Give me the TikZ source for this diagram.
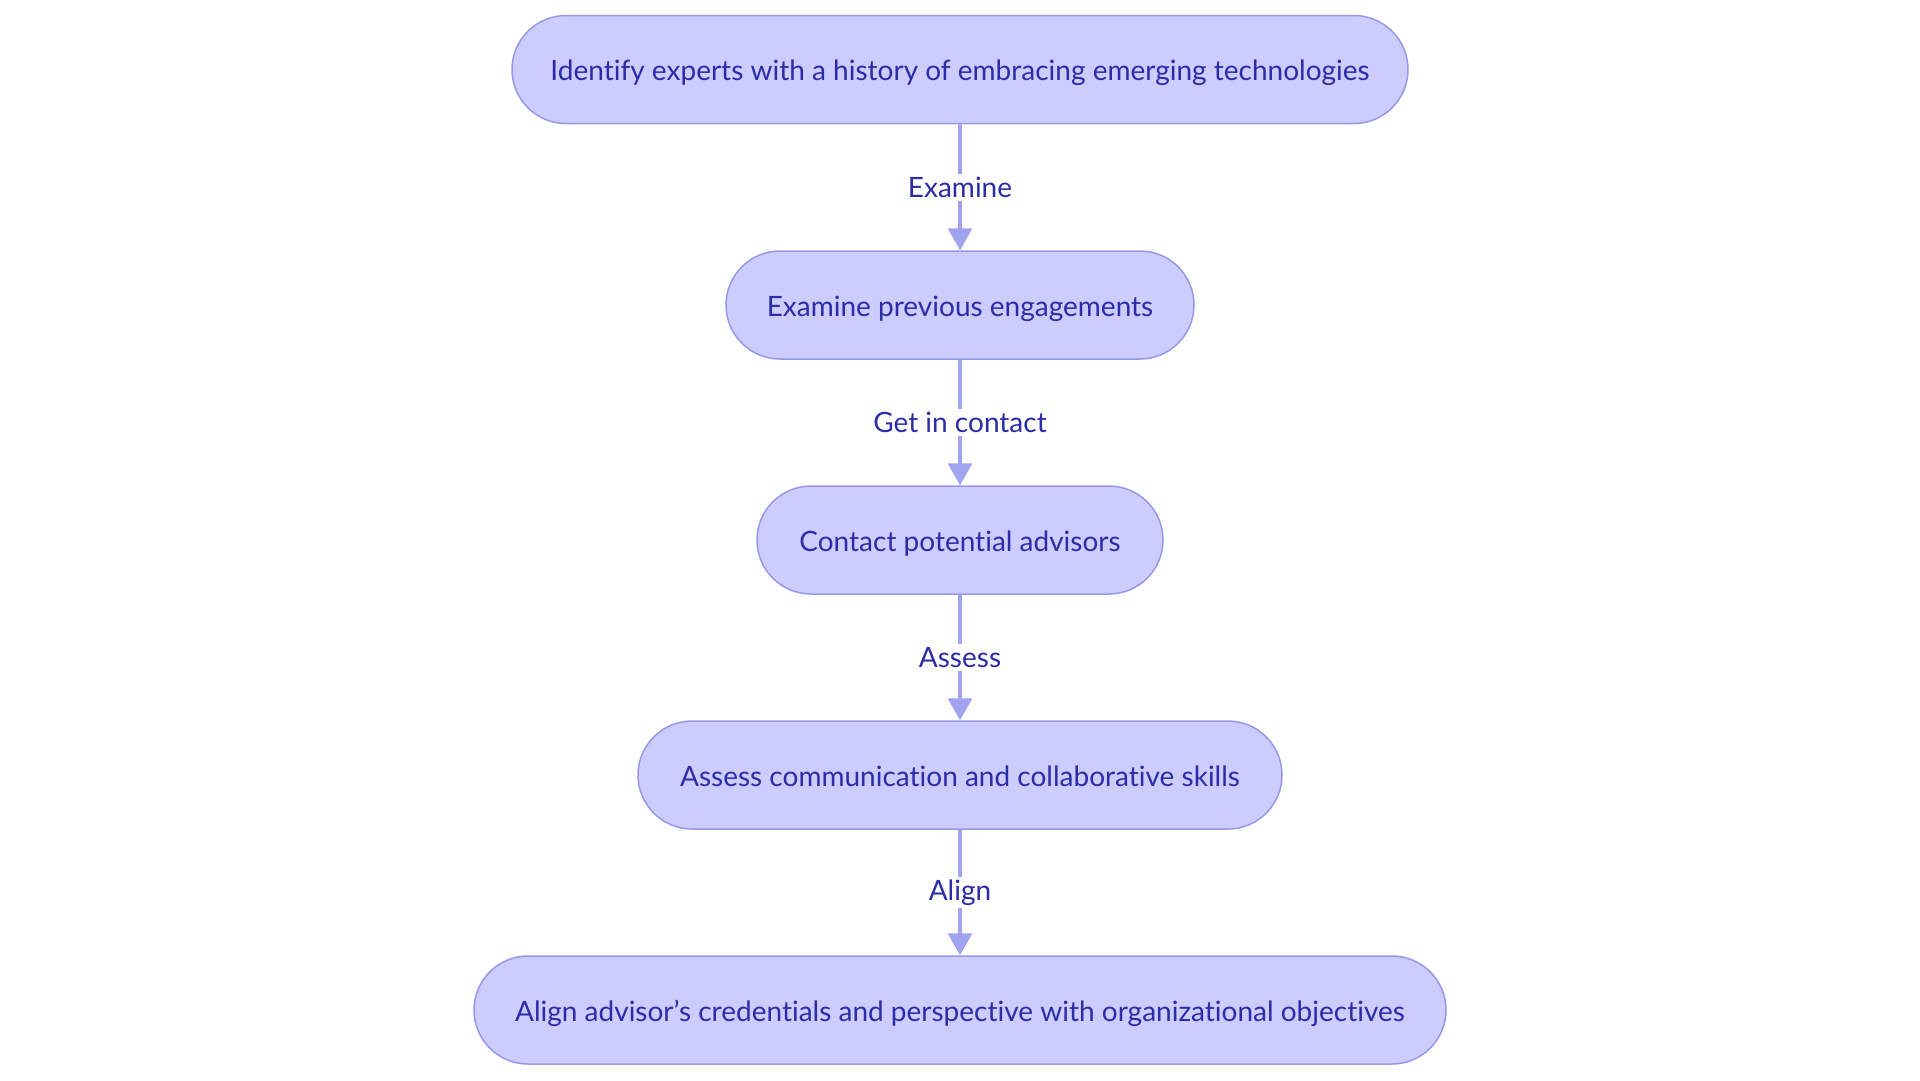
\documentclass[tikz,border=0pt]{standalone}
\usepackage{fontspec}
\setmainfont{Lato}[RawFeature=-liga]
\usetikzlibrary{arrows.meta}
\definecolor{boxfill}{RGB}{204,204,255}
\definecolor{boxline}{RGB}{150,152,232}
\definecolor{edgeline}{RGB}{160,163,240}
\definecolor{boxtext}{RGB}{44,44,168}
\begin{document}
\begin{tikzpicture}[x=1pt, y=-1pt,
    every node/.style={font=\fontsize{28}{34}\selectfont, text=boxtext},
    stepbox/.style={draw=boxline, fill=boxfill, line width=1.5pt, rounded corners=54pt, minimum height=108pt, inner sep=0pt, text height=24pt, text depth=2pt},
    flow/.style={draw=edgeline, line width=3.5pt, -{Triangle[width=24pt,length=22pt]}},
    lbl/.style={fill=white, inner sep=3pt}]

        \useasboundingbox (0,0) rectangle (1920,1080);

        % Boxes
        \node[stepbox, minimum width=896pt] (identify) at (960,69.5) {Identify experts with a history of embracing emerging technologies};
        \node[stepbox, minimum width=468pt] (examine) at (960,305) {Examine previous engagements};
        \node[stepbox, minimum width=406pt] (contact) at (960,540) {Contact potential advisors};
        \node[stepbox, minimum width=644pt] (assess) at (960,775) {Assess communication and collaborative skills};
        \node[stepbox, minimum width=972pt] (align) at (960,1010) {Align advisor’s credentials and perspective with organizational objectives};

        % Arrows
        \draw[flow] (identify) -- node[lbl] {Examine} (examine);
        \draw[flow] (examine) -- node[lbl] {Get in contact} (contact);
        \draw[flow] (contact) -- node[lbl] {Assess} (assess);
        \draw[flow] (assess) -- node[lbl] {Align} (align);

    \end{tikzpicture}
\end{document}
